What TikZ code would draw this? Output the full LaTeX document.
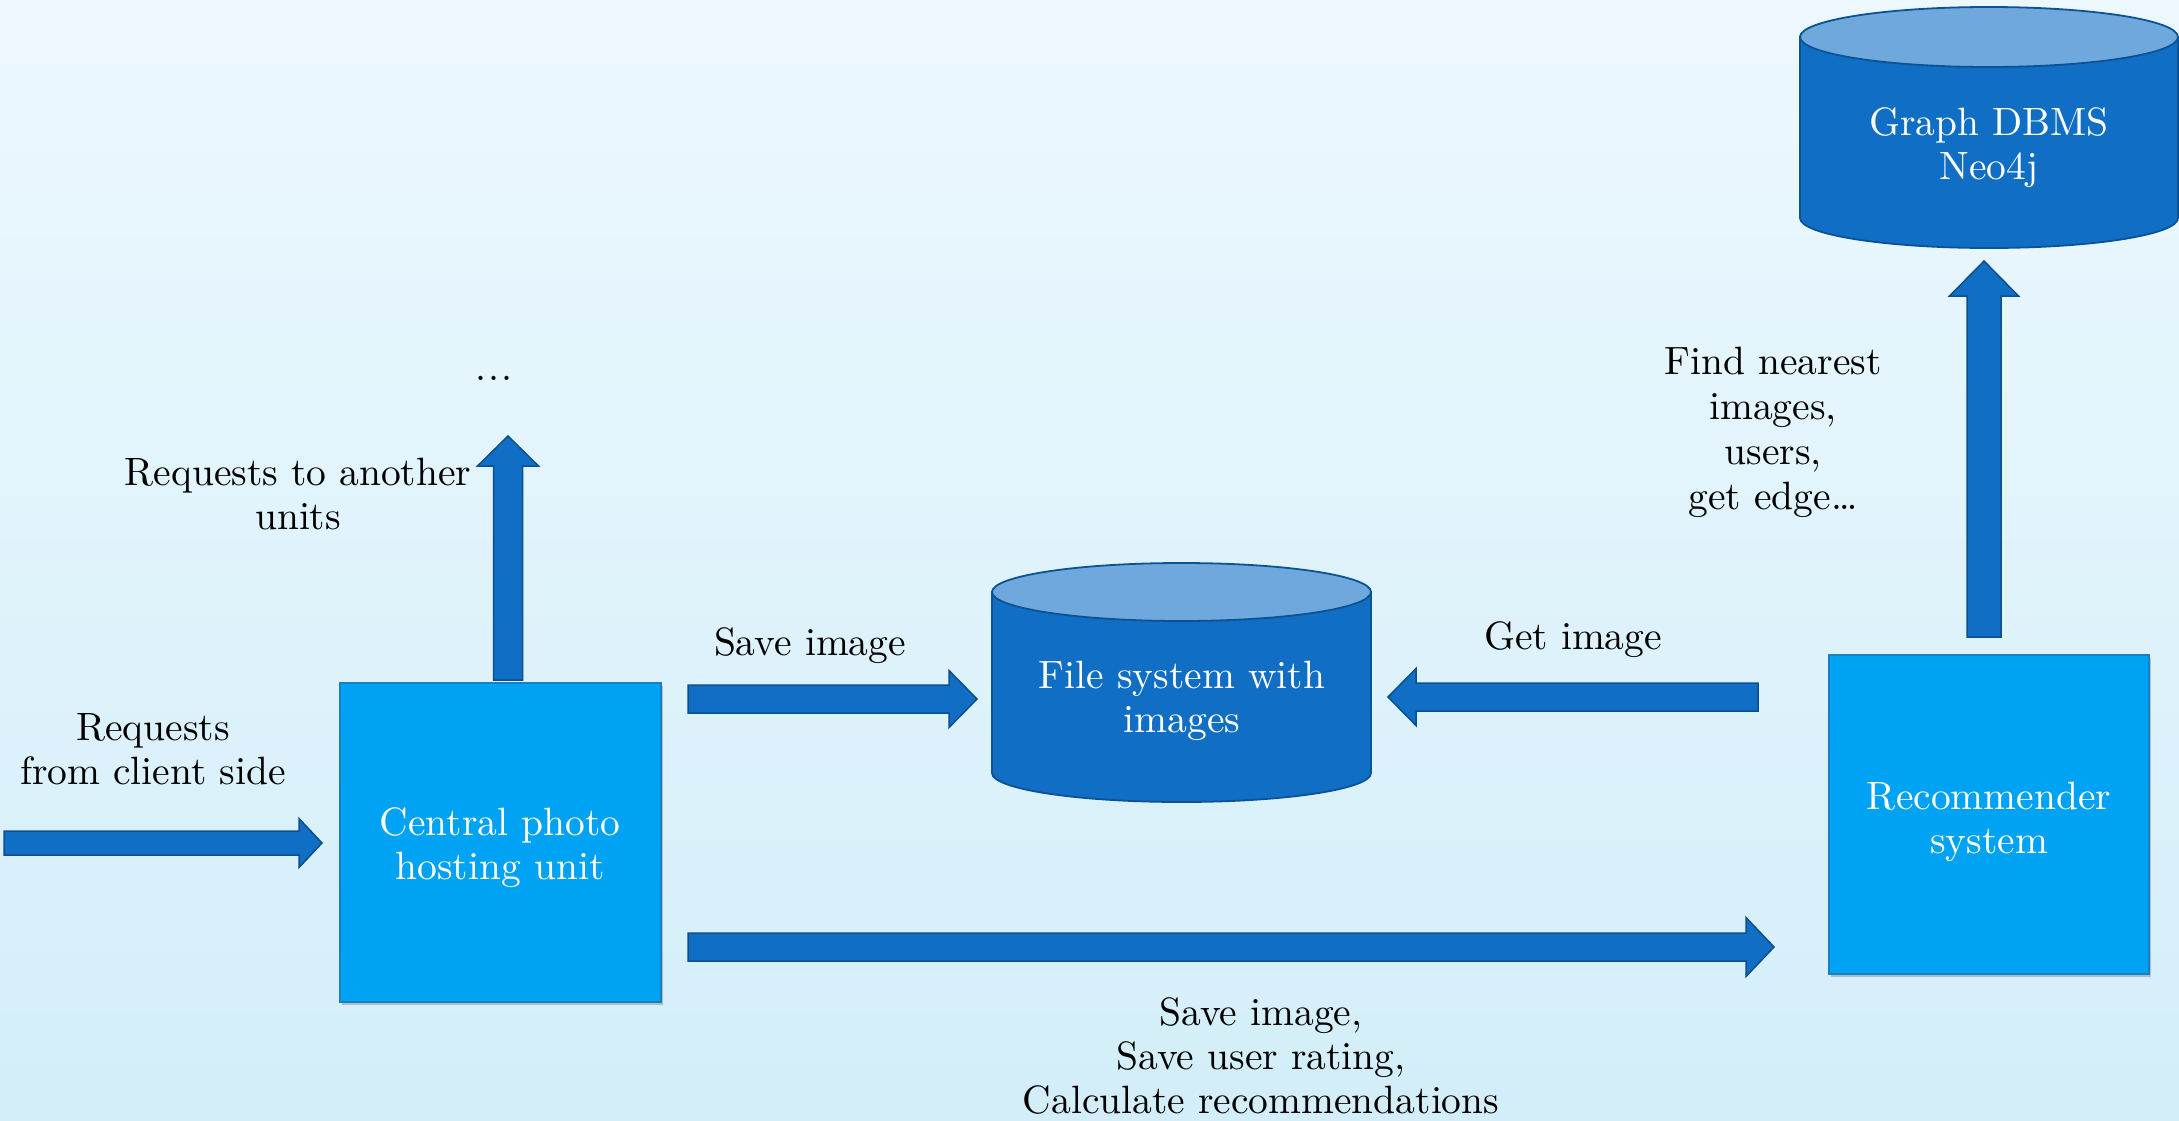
\documentclass[tikz,border=0pt]{standalone}
\usepackage{fontspec}
\setmainfont{lmroman10-regular}[Extension=.otf,BoldFont=lmroman10-bold,ItalicFont=lmroman10-italic,BoldItalicFont=lmroman10-bolditalic]
\usetikzlibrary{calc,shadows}

\definecolor{bgtop}{HTML}{EDF8FE}
\definecolor{bgmid}{HTML}{D6F2FC}
\definecolor{bgbot}{HTML}{D3EEF9}
\definecolor{unitfill}{HTML}{00A3F4}
\definecolor{unitline}{HTML}{1A7FBF}
\definecolor{dbbody}{HTML}{106EC5}
\definecolor{dbtop}{HTML}{6FA8DC}
\definecolor{dbline}{HTML}{0B5394}
\definecolor{arrfill}{HTML}{106EC5}
\definecolor{arrline}{HTML}{0B4F8F}

% block arrow from tail #1 to tip #2: half shaft #3, half head #4, head length #5
\newcommand\blockarrow[5]{%
  \coordinate (ba-h) at ($(#2)!#5!(#1)$);
  \filldraw[blockarr] ($(#1)!#3!90:(#2)$) -- ($(ba-h)!#3!90:(#2)$)
    -- ($(ba-h)!#4!90:(#2)$) -- (#2) -- ($(ba-h)!#4!-90:(#2)$)
    -- ($(ba-h)!#3!-90:(#2)$) -- ($(#1)!#3!-90:(#2)$) -- cycle;}

% database cylinder: centre x #1, top ellipse y #2, bottom ellipse y #3, radii #4, #5
\newcommand\dbcylinder[5]{%
  \filldraw[dbside] (#1-#4,#2) -- (#1-#4,#3)
    arc[start angle=180,end angle=360,x radius=#4pt,y radius=#5pt]
    -- (#1+#4,#2) -- cycle;
  \filldraw[dbcap] (#1,#2) ellipse[x radius=#4pt,y radius=#5pt];}

\begin{document}
\begin{tikzpicture}[x=1pt,y=-1pt,
  lbl/.style={font=\fontsize{39.5}{44}\selectfont,inner sep=0pt,align=center,text=black},
  wlbl/.style={lbl,text=white},
  unit/.style={draw=unitline,line width=1.2pt,fill=unitfill,inner sep=0pt,
    drop shadow={shadow xshift=2pt,shadow yshift=-3pt,opacity=0.3,fill=black!70}},
  blockarr/.style={fill=arrfill,draw=arrline,line width=1.5pt,line join=miter},
  dbside/.style={fill=dbbody,draw=dbline,line width=1.8pt},
  dbcap/.style={fill=dbtop,draw=dbline,line width=1.8pt}]

\useasboundingbox (0,0) rectangle (2179,1120);
\shade[top color=bgtop,middle color=bgmid,bottom color=bgbot] (0,0) rectangle (2179,1120);

% processing units
\node[unit,minimum width=321pt,minimum height=319pt] (central) at (500.5,842.5) {};
\node[wlbl,anchor=north] (central-txt) at (500,807.6) {Central photo\\hosting unit};
\node[unit,minimum width=320pt,minimum height=319pt] (recsys) at (1989,814.5) {};
\node[wlbl,anchor=north] (recsys-txt) at (1989,781.6) {Recommender\\system};

% storages
\dbcylinder{1181.5}{592}{773}{189.5}{29}
\node[wlbl,anchor=north] (fs) at (1182,660.6) {File system with\\images};
\dbcylinder{1989}{37}{218}{189}{30}
\node[wlbl,anchor=north] (neo) at (1989,107.4) {Graph DBMS\\Neo4j};

% arrow ends
\coordinate (client-tail) at (4,843);
\coordinate (client-tip) at (322,843);
\coordinate (other-tail) at (508,680);
\coordinate (other-tip) at (508,436);
\coordinate (save-tail) at (688,699);
\coordinate (save-tip) at (977,699);
\coordinate (get-tail) at (1758,697);
\coordinate (get-tip) at (1388,697);
\coordinate (rate-tail) at (688,947);
\coordinate (rate-tip) at (1774,947);
\coordinate (find-tail) at (1984,637);
\coordinate (find-tip) at (1984,261);

\blockarrow{client-tail}{client-tip}{12pt}{24.5pt}{23pt}
\blockarrow{other-tail}{other-tip}{14.5pt}{30.5pt}{30pt}
\blockarrow{save-tail}{save-tip}{14pt}{28.5pt}{28pt}
\blockarrow{get-tail}{get-tip}{14pt}{28.5pt}{28pt}
\blockarrow{rate-tail}{rate-tip}{14pt}{29.5pt}{28pt}
\blockarrow{find-tail}{find-tip}{17pt}{34.5pt}{35pt}

% connector labels
\node[lbl,anchor=north] (client-lbl) at (153,713) {Requests\\from client side};
\node[lbl,anchor=north] (other-lbl) at (298,457.6) {Requests to another\\units};
\node[lbl,anchor=base] (other-dots) at (494,380) {.\kern2.5pt.\kern2.5pt.};
\node[lbl,anchor=base] (save-lbl) at (810,655) {Save image};
\node[lbl,anchor=base] (get-lbl) at (1573,649) {Get image};
\node[lbl,anchor=north] (rate-lbl) at (1261,997.4) {Save image,\\Save user rating,\\Calculate recommendations};
\node[lbl,anchor=north,font=\fontsize{39.5}{45}\selectfont] (find-lbl) at (1773,346.6) {Find nearest\\images,\\users,\\get edge\ldots};
\end{tikzpicture}
\end{document}
